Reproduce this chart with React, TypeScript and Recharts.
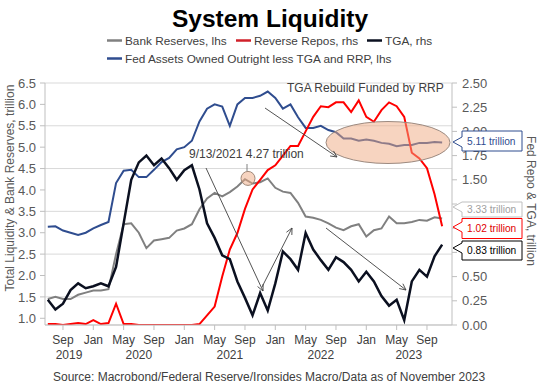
import React from 'react';
import { ComposedChart, Line, XAxis, YAxis, CartesianGrid, ReferenceDot } from 'recharts';

// monthly readings, Jul 2019 .. Nov 2023
const months = [
  '2019-07', '2019-08', '2019-09', '2019-10', '2019-11', '2019-12',
  '2020-01', '2020-02', '2020-03', '2020-04', '2020-05', '2020-06',
  '2020-07', '2020-08', '2020-09', '2020-10', '2020-11', '2020-12',
  '2021-01', '2021-02', '2021-03', '2021-04', '2021-05', '2021-06',
  '2021-07', '2021-08', '2021-09', '2021-10', '2021-11', '2021-12',
  '2022-01', '2022-02', '2022-03', '2022-04', '2022-05', '2022-06',
  '2022-07', '2022-08', '2022-09', '2022-10', '2022-11', '2022-12',
  '2023-01', '2023-02', '2023-03', '2023-04', '2023-05', '2023-06',
  '2023-07', '2023-08', '2023-09', '2023-10', '2023-11',
];

// lhs, trillion
const bankReserves = [
  1.45, 1.5, 1.45, 1.45, 1.55, 1.6,
  1.65, 1.65, 1.68, 2.5, 3.2, 3.22,
  3.0, 2.64, 2.82, 2.85, 2.88, 3.05,
  3.1, 3.2, 3.55, 3.8, 3.93, 3.85,
  3.95, 4.08, 4.25, 4.15, 4.18, 4.27,
  4.05, 3.96, 3.93, 3.7, 3.38, 3.35,
  3.3, 3.22, 3.12, 3.06, 3.15, 3.2,
  2.91, 3.06, 3.1, 3.38, 3.22, 3.22,
  3.25, 3.3, 3.28, 3.36, 3.33,
];

const fedAssets = [
  3.14, 3.15, 3.05, 3.0, 2.95, 3.0,
  3.1, 3.18, 3.25, 4.16, 4.45, 4.47,
  4.3, 4.3, 4.47, 4.65, 4.75, 4.95,
  5.0, 5.15, 5.6, 5.9, 6.0, 5.95,
  5.5, 6.0, 6.15, 6.15, 6.2, 6.3,
  6.15, 5.9, 6.0, 5.7, 5.45, 5.45,
  5.5, 5.4, 5.35, 5.2, 5.2, 5.15,
  5.18, 5.15, 5.1, 5.08, 5.02, 5.05,
  5.05, 5.1, 5.1, 5.12, 5.11,
];

// rhs, trillion
const reverseRepos = [
  0.01, 0.01, 0.0, 0.01, 0.02, 0.01,
  0.05, 0.01, 0.02, 0.22, 0.01, 0.01,
  0.0, 0.0, 0.0, 0.0, 0.0, 0.0,
  0.0, 0.0, 0.01, 0.1, 0.19, 0.5,
  0.78, 0.95, 1.2, 1.4, 1.5, 1.6,
  1.65, 1.75, 1.85, 1.85, 2.0, 2.15,
  2.26, 2.25, 2.3, 2.3, 2.2, 2.32,
  2.15, 2.1, 2.22, 2.3, 2.26, 2.15,
  1.78, 1.72, 1.62, 1.35, 1.02,
];

const tga = [
  0.26, 0.16, 0.22, 0.36, 0.43, 0.38,
  0.4, 0.43, 0.4, 0.6, 1.05, 1.5,
  1.68, 1.75, 1.65, 1.72, 1.62, 1.5,
  1.6, 1.65, 1.4, 1.05, 0.9, 0.72,
  0.68, 0.45, 0.28, 0.1, 0.33, 0.15,
  0.43, 0.76, 0.68, 0.57, 0.95, 0.78,
  0.67, 0.57, 0.7, 0.65, 0.57, 0.45,
  0.55, 0.45, 0.3, 0.2, 0.26, 0.05,
  0.45, 0.57, 0.5, 0.71, 0.83,
];

const monthNames = ['Jan', 'Feb', 'Mar', 'Apr', 'May', 'Jun', 'Jul', 'Aug', 'Sep', 'Oct', 'Nov', 'Dec'];
const monthTicks = [8, 12, 16, 20, 24, 28, 32, 36, 40, 44, 48, 52, 56];
const yearNames = ['2019', '2020', '2021', '2022', '2023'];
const yearTicks = [8.8, 18, 30, 42, 53.6];
const leftTicks = [1, 1.5, 2, 2.5, 3, 3.5, 4, 4.5, 5, 5.5, 6, 6.5];
const rightTicks = [0, 0.25, 0.5, 0.75, 1, 1.25, 1.5, 1.75, 2, 2.25, 2.5];
// these sit under the value callouts on the right
const hiddenRightTicks = [0.75, 1, 1.25];

const toIndex = (s: string) => {
  const [y, m] = s.split('-').map(Number);
  return (y - 2019) * 12 + m - 1;
};

const data = months.map((d, i) => ({
  t: toIndex(d),
  reserves: bankReserves[i],
  assets: fedAssets[i],
  rrp: reverseRepos[i],
  tga: tga[i],
}));

const FONT = 'Arial, "Liberation Sans", sans-serif';
const GREY = '#808080';
const RED = '#ff0000';
const BLACK = '#0b1020';
const BLUE = '#2f4d8f';

const MonthTick = (props: any) => {
  const { x, y, payload } = props;
  return (
    <text x={x} y={y} dy={12} textAnchor='middle' fontSize={12} fontFamily={FONT} fill='#404040'>
      {monthNames[payload.value % 12]}
    </text>
  );
};

const YearTick = (props: any) => {
  const { x, y, index } = props;
  return (
    <text x={x} y={y} dy={14} textAnchor='middle' fontSize={12} fontFamily={FONT} fill='#404040'>
      {yearNames[index]}
    </text>
  );
};

const RightTick = (props: any) => {
  const { x, y, payload } = props;
  if (hiddenRightTicks.includes(payload.value)) return <g />;
  return (
    <text x={x} y={y} dy={4.5} textAnchor='start' fontSize={13} fontFamily={FONT} fill='#595959'>
      {payload.value.toFixed(2)}
    </text>
  );
};

function Callout({ tipY, top, bottom, color, textColor, label }: any) {
  const tip = 453;
  const left = 462;
  const right = 522;
  const d = `M${tip},${tipY} L${left},${tipY - 5} L${left},${top} L${right},${top} L${right},${bottom} L${left},${bottom} L${left},${tipY + 5} Z`;
  return (
    <g>
      <path d={d} fill='#fff' stroke={color} strokeWidth={1} />
      <text x={467} y={(top + bottom) / 2 + 3.5} fontSize={10.2} fontFamily={FONT} fill={textColor}>
        {label}
      </text>
    </g>
  );
}

function Arrow({ x1, y1, x2, y2 }: any) {
  const a = Math.atan2(y2 - y1, x2 - x1);
  const l = 7;
  const s = 0.45;
  const p1 = [x2 - l * Math.cos(a - s), y2 - l * Math.sin(a - s)];
  const p2 = [x2 - l * Math.cos(a + s), y2 - l * Math.sin(a + s)];
  return (
    <g stroke='#404040' strokeWidth={0.9} fill='none'>
      <line x1={x1} y1={y1} x2={x2} y2={y2} />
      <polyline points={`${p1[0]},${p1[1]} ${x2},${y2} ${p2[0]},${p2[1]}`} />
    </g>
  );
}

export default function App() {
  const legendRow1 = [
    { label: 'Bank Reserves, lhs', color: GREY, x: 107 },
    { label: 'Reverse Repos, rhs', color: '#d0202a', x: 236 },
    { label: 'TGA, rhs', color: BLACK, x: 367 },
  ];
  return (
    <div style={{ position: 'relative', width: 541, height: 388, background: '#fff' }}>
      <style>{'body{margin:0}'}</style>
      <ComposedChart width={541} height={388} data={data} margin={{ top: 83, right: 0, bottom: 0, left: 0 }}>
        <CartesianGrid yAxisId='left' vertical={false} stroke='#d9d9d9' />
        <XAxis
          xAxisId='m'
          dataKey='t'
          type='number'
          domain={[5.63, 59.3]}
          allowDataOverflow
          ticks={monthTicks}
          tick={<MonthTick />}
          tickSize={5}
          tickMargin={2}
          height={20}
          stroke='#bfbfbf'
        />
        <XAxis
          xAxisId='y'
          dataKey='t'
          type='number'
          domain={[5.63, 59.3]}
          allowDataOverflow
          ticks={yearTicks}
          tick={<YearTick />}
          tickLine={false}
          axisLine={false}
          tickSize={0}
          tickMargin={0}
          height={43}
        />
        <YAxis
          yAxisId='left'
          domain={[0.843, 6.5]}
          allowDataOverflow
          ticks={leftTicks}
          tickFormatter={(v: number) => v.toFixed(1)}
          width={45}
          tickSize={5}
          tickMargin={4}
          stroke='#bfbfbf'
          tick={{ fill: '#595959', fontSize: 13, fontFamily: FONT }}
        />
        <YAxis
          yAxisId='right'
          orientation='right'
          domain={[0, 2.5]}
          allowDataOverflow
          ticks={rightTicks}
          width={89}
          tickSize={5}
          tickMargin={5}
          stroke='#bfbfbf'
          tick={<RightTick />}
        />
        <Line xAxisId='m' yAxisId='left' dataKey='assets' stroke={BLUE} strokeWidth={2} dot={false} isAnimationActive={false} />
        <Line xAxisId='m' yAxisId='left' dataKey='reserves' stroke={GREY} strokeWidth={2} dot={false} isAnimationActive={false} />
        <Line xAxisId='m' yAxisId='right' dataKey='rrp' stroke={RED} strokeWidth={2} dot={false} isAnimationActive={false} />
        <Line xAxisId='m' yAxisId='right' dataKey='tga' stroke={BLACK} strokeWidth={2.5} dot={false} isAnimationActive={false} />
        <ReferenceDot xAxisId='m' yAxisId='left' x={32.4} y={4.27} r={7} fill='rgb(240,170,130)' fillOpacity={0.5} stroke='#a08878' />
      </ComposedChart>

      <svg width={541} height={388} style={{ position: 'absolute', left: 0, top: 0, pointerEvents: 'none' }}>
        <text x={270} y={27} textAnchor='middle' fontSize={24.5} fontWeight='bold' fontFamily={FONT} fill='#000'>
          System Liquidity
        </text>

        {legendRow1.map((l) => (
          <g key={l.label}>
            <line x1={l.x} x2={l.x + 15} y1={40.5} y2={40.5} stroke={l.color} strokeWidth={2.5} />
            <text x={l.x + 18} y={44.5} fontSize={11.8} fontFamily={FONT} fill='#404040'>
              {l.label}
            </text>
          </g>
        ))}
        <line x1={107} x2={122} y1={58.5} y2={58.5} stroke={BLUE} strokeWidth={2.5} />
        <text x={125} y={62.5} fontSize={11.8} fontFamily={FONT} fill='#404040'>
          Fed Assets Owned Outright less TGA and RRP, lhs
        </text>

        <text transform='rotate(-90, 10, 188)' x={10} y={192} textAnchor='middle' fontSize={12} fontFamily={FONT} fill='#595959'>
          Total Liquidity &amp; Bank Reserves, trillion
        </text>
        <text transform='rotate(90, 531, 201)' x={531} y={205} textAnchor='middle' fontSize={12} fontFamily={FONT} fill='#595959'>
          Fed Repo &amp; TGA, trillion
        </text>

        <ellipse cx={388} cy={142.5} rx={62} ry={21} fill='rgb(240,170,130)' fillOpacity={0.5} stroke='#9c8a80' strokeWidth={1} />

        <text x={287} y={92} fontSize={12} fontFamily={FONT} fill='#404040'>
          TGA Rebuild Funded by RRP
        </text>
        <text x={189} y={158} fontSize={12} fontFamily={FONT} fill='#404040'>
          9/13/2021 4.27 trillion
        </text>
        <line x1={247} y1={164} x2={247} y2={171} stroke='#808080' strokeWidth={1} />

        <Arrow x1={265} y1={108} x2={337} y2={157} />
        <Arrow x1={206} y1={168} x2={263} y2={291} />
        <Arrow x1={262} y1={287} x2={292} y2={228} />
        <Arrow x1={326} y1={228} x2={406} y2={290} />

        <Callout tipY={142} top={131} bottom={151} color={BLUE} textColor='#2f4d8f' label='5.11 trillion' />
        <Callout tipY={207} top={202} bottom={217} color='#bfbfbf' textColor='#a0a0a0' label='3.33 trillion' />
        <Callout tipY={227} top={218.5} bottom={238.5} color={RED} textColor='#e00000' label='1.02 trillion' />
        <Callout tipY={248} top={241} bottom={260} color='#000' textColor='#000' label='0.83 trillion' />

        <text x={53} y={381} fontSize={12} fontFamily={FONT} fill='#404040'>
          Source: Macrobond/Federal Reserve/Ironsides Macro/Data as of November 2023
        </text>
      </svg>
    </div>
  );
}
